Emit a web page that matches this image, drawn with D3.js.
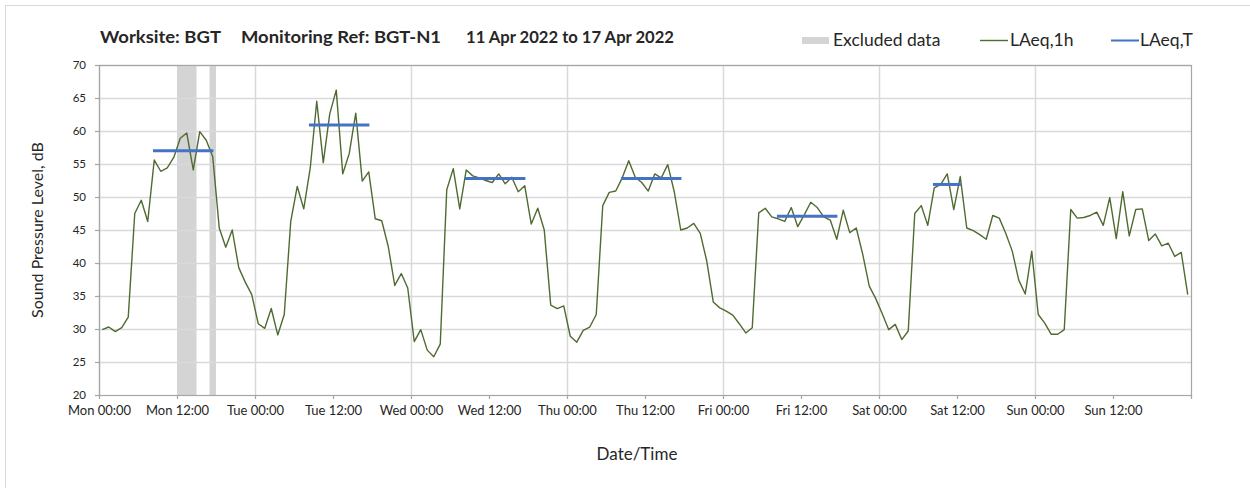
<!DOCTYPE html>
<html>
<head>
<meta charset="utf-8">
<script src="https://cdn.jsdelivr.net/npm/d3@7"></script>
<style>
  body { margin: 0; background: #fff; }
  text { font-family: Lato, "Open Sans", sans-serif; fill: #262626; }
</style>
</head>
<body>
<svg id="chart" width="1250" height="488"></svg>
<script>
// hourly LAeq,1h values, Mon 00:00 .. Sun 23:00 (168 hours)
var laeq1h = [
  29.9, 30.3, 29.6, 30.2, 31.8, 47.5, 49.5, 46.3, 55.6, 53.9, 54.4, 56.0,
  58.9, 59.7, 54.1, 59.9, 58.6, 56.1, 45.3, 42.4, 45.0, 39.3, 37.1, 35.2,
  30.8, 30.1, 33.1, 29.1, 32.2, 46.3, 51.6, 48.2, 54.4, 64.5, 55.2, 62.6,
  66.2, 53.5, 56.6, 62.7, 52.4, 53.8, 46.7, 46.4, 42.5, 36.6, 38.4, 36.2,
  28.1, 29.9, 26.8, 25.8, 27.7, 51.1, 54.3, 48.2, 54.1, 53.2, 52.9, 52.5,
  52.2, 53.5, 52.0, 53.0, 50.8, 51.7, 45.9, 48.3, 45.0, 33.6, 33.1, 33.5,
  28.9, 28.0, 29.8, 30.3, 32.2, 48.7, 50.7, 50.9, 52.9, 55.5, 53.0, 52.2,
  50.9, 53.5, 52.9, 54.9, 50.8, 45.0, 45.3, 46.0, 44.5, 40.3, 34.1, 33.2,
  32.7, 32.1, 30.8, 29.4, 30.2, 47.6, 48.3, 47.0, 46.7, 46.3, 48.4, 45.5,
  47.3, 49.2, 48.4, 47.0, 46.5, 43.6, 48.0, 44.6, 45.3, 41.3, 36.5, 34.6,
  32.3, 29.9, 30.7, 28.4, 29.7, 47.5, 48.7, 45.7, 51.4, 51.9, 53.5, 48.1,
  53.1, 45.3, 44.9, 44.3, 43.6, 47.2, 46.8, 44.5, 41.8, 37.4, 35.3, 41.8,
  32.2, 30.9, 29.2, 29.2, 29.9, 48.1, 46.8, 46.9, 47.2, 47.7, 45.7, 49.9,
  43.7, 50.8, 44.1, 48.1, 48.2, 43.4, 44.4, 42.6, 43.0, 41.0, 41.6, 35.2
];

// LAeq,T over the daytime period (start hour, end hour, value)
var periodStart = [8, 32, 56, 80, 104, 128];
var periodEnd   = [17, 41, 65, 89, 113, 132];
var laeqT       = [57.0, 60.9, 52.8, 52.8, 47.1, 51.9];

// excluded data (hour ranges)
var excludedStart = [12, 17];
var excludedEnd   = [15, 18];

var dayNames = ["Mon", "Tue", "Wed", "Thu", "Fri", "Sat", "Sun", "Mon"];
var yTicks = [20, 25, 30, 35, 40, 45, 50, 55, 60, 65, 70];
var titleParts = ["Worksite: BGT", "Monitoring Ref: BGT-N1", "11 Apr 2022 to 17 Apr 2022"];

var svg = d3.select("#chart");
var margin = { left: 99, right: 59, top: 65, bottom: 93 };
var W = 1250, H = 488;
var pw = W - margin.left - margin.right,
    ph = H - margin.top - margin.bottom;

// outer frame
svg.append("rect")
  .attr("x", 5.5).attr("y", 5.5)
  .attr("width", 1260).attr("height", 500)
  .attr("fill", "none").attr("stroke", "#d9d9d9");

var x = d3.scaleLinear().domain([0, 168]).range([0, pw]);
var y = d3.scaleLinear().domain([20, 70]).range([ph, 0]);

var g = svg.append("g")
  .attr("transform", "translate(" + margin.left + "," + margin.top + ")");

//灰色排除区
g.append("g").selectAll("rect")
  .data(excludedStart)
  .enter()
  .append("rect")
  .attr("x", function (d) { return x(d); })
  .attr("y", 0)
  .attr("width", function (d, i) { return x(excludedEnd[i]) - x(d); })
  .attr("height", ph)
  .attr("fill", "#d4d4d4");

// gridlines
g.append("g").selectAll("line")
  .data(yTicks.slice(1))
  .enter()
  .append("line")
  .attr("x1", 0).attr("x2", pw)
  .attr("y1", function (d) { return Math.round(y(d)) + 0.5; })
  .attr("y2", function (d) { return Math.round(y(d)) + 0.5; })
  .attr("stroke", "#d9d9d9").attr("stroke-width", 1.5);

g.append("g").selectAll("line")
  .data(d3.range(24, 168, 24))
  .enter()
  .append("line")
  .attr("x1", function (d) { return Math.round(x(d)) + 0.5; })
  .attr("x2", function (d) { return Math.round(x(d)) + 0.5; })
  .attr("y1", 0).attr("y2", ph)
  .attr("stroke", "#d9d9d9").attr("stroke-width", 1.5);

// plot box
g.append("rect")
  .attr("x", 0.5).attr("y", 0.5)
  .attr("width", pw).attr("height", ph)
  .attr("fill", "none").attr("stroke", "#a6a6a6").attr("stroke-width", 1.2);

// axes
var fmt = function (d) {
  if (d >= 168) return "";
  return dayNames[Math.floor(d / 24)] + " " + (d % 24 === 0 ? "00:00" : "12:00");
};
var xAxis = g.append("g")
  .attr("transform", "translate(0," + ph + ")")
  .call(d3.axisBottom(x).tickValues(d3.range(0, 169, 12)).tickFormat(fmt).tickSize(4).tickSizeOuter(0));
xAxis.selectAll("text").style("font-size", "13px").attr("dy", "1.0em");

var yAxis = g.append("g")
  .call(d3.axisLeft(y).tickValues(yTicks).tickSize(4).tickSizeOuter(0));
yAxis.selectAll("text").style("font-size", "11.5px").attr("x", -13);

svg.selectAll(".domain, .tick line").attr("stroke", "#a6a6a6").attr("stroke-width", 1.2);

// LAeq,1h line
var line = d3.line()
  .x(function (d, i) { return x(i + 0.5); })
  .y(function (d) { return y(d); });

g.append("path")
  .datum(laeq1h)
  .attr("d", line)
  .attr("fill", "none")
  .attr("stroke", "#4f6b32")
  .attr("stroke-width", 1.4)
  .attr("stroke-linejoin", "round");

// LAeq,T segments
g.append("g").selectAll("line")
  .data(laeqT)
  .enter()
  .append("line")
  .attr("x1", function (d, i) { return x(periodStart[i] + 0.3); })
  .attr("x2", function (d, i) { return x(periodEnd[i] + 0.6); })
  .attr("y1", function (d) { return y(d); })
  .attr("y2", function (d) { return y(d); })
  .attr("stroke", "#4472c4")
  .attr("stroke-width", 3);

// title (three parts, widths fitted to the reference)
var titleX = [100, 241, 466];
var titleW = [121, 200, 208];
svg.append("g")
  .style("font-weight", "bold").style("font-size", "17px")
  .selectAll("text")
  .data(titleParts)
  .enter()
  .append("text")
  .attr("x", function (d, i) { return titleX[i]; })
  .attr("y", 43)
  .attr("textLength", function (d, i) { return titleW[i]; })
  .attr("lengthAdjust", "spacingAndGlyphs")
  .text(function (d) { return d; });

svg.append("text")
  .attr("x", 637).attr("y", 460)
  .attr("text-anchor", "middle")
  .style("font-size", "17px")
  .text("Date/Time");

svg.append("text")
  .attr("transform", "translate(43," + (margin.top + ph / 2) + ") rotate(-90)")
  .attr("text-anchor", "middle")
  .style("font-size", "16px")
  .text("Sound Pressure Level, dB");

// legend
var legend = svg.append("g").style("font-size", "17.5px");
legend.append("rect")
  .attr("x", 802).attr("y", 37).attr("width", 27).attr("height", 7)
  .attr("fill", "#d4d4d4");
legend.append("text").attr("x", 833).attr("y", 46).text("Excluded data");
legend.append("line")
  .attr("x1", 980).attr("x2", 1008).attr("y1", 40.5).attr("y2", 40.5)
  .attr("stroke", "#4f6b32").attr("stroke-width", 1.4);
legend.append("text").attr("x", 1010).attr("y", 46).text("LAeq,1h");
legend.append("line")
  .attr("x1", 1111).attr("x2", 1139).attr("y1", 40.5).attr("y2", 40.5)
  .attr("stroke", "#4472c4").attr("stroke-width", 2);
legend.append("text").attr("x", 1140).attr("y", 46).text("LAeq,T");
</script>
</body>
</html>
